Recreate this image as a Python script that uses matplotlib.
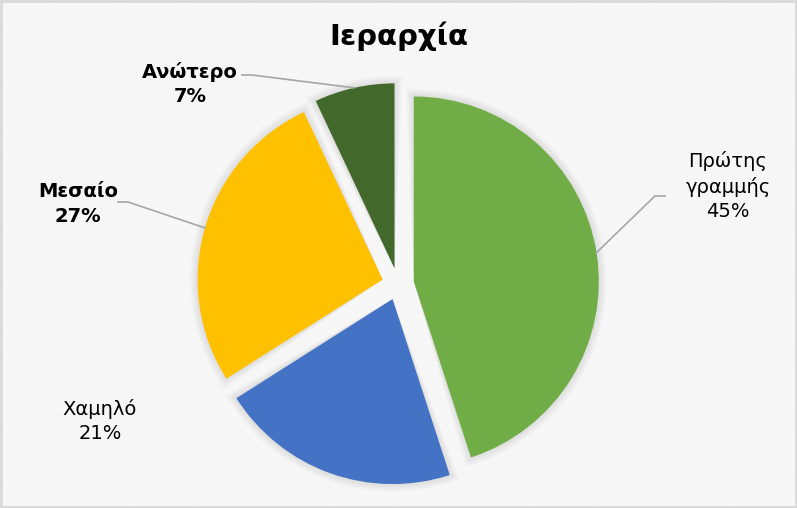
import numpy as np
import matplotlib.pyplot as plt
from matplotlib.patches import Rectangle, Wedge

# Δεδομένα
labels = ['Πρώτης\nγραμμής', 'Χαμηλό', 'Μεσαίο', 'Ανώτερο']
values = [45, 21, 27, 7]
colors = ['#70AD47', '#4472C4', '#FFC000', '#43682B']
title = 'Ιεραρχία'

W, H = 797, 508
fig = plt.figure(figsize=(W / 100, H / 100), dpi=100)
ax = fig.add_axes([0, 0, 1, 1])

# fondo con rayas diagonales suaves
plt.rcParams['hatch.linewidth'] = 0.7
bg = Rectangle((0, 0), W, H, facecolor='white', edgecolor='#efefef',
               hatch='\\' * 12, linewidth=0, zorder=0)
ax.add_patch(bg)
ax.add_patch(Rectangle((1, 1), W - 2, H - 2, facecolor='none',
                       edgecolor='#d9d9d9', linewidth=2, zorder=10))

cx, cy, r = 398, H - 284, 185
wedges, _ = ax.pie(values, colors=colors, startangle=90, counterclock=False,
                   center=(cx, cy), radius=r, explode=[16] * 4, frame=True,
                   wedgeprops=dict(linewidth=0, zorder=3))

# sombra difusa alrededor de cada porción
for w in wedges:
    for k in range(1, 7):
        ax.add_patch(Wedge(w.center, w.r + k * 1.3, w.theta1 - k * 0.4,
                           w.theta2 + k * 0.4, facecolor='#808080',
                           alpha=0.03, linewidth=0, zorder=2))

ax.set_xlim(0, W)
ax.set_ylim(0, H)
ax.axis('off')

ax.text(W / 2, H - 45, title, ha='center', va='baseline',
        fontsize=21, fontweight='bold', color='#000000')

pct = [f'{v}%' for v in values]
# posición de cada etiqueta (centro del texto) y codo de la línea guía
lab_pos = [(728, H - 186), (100, H - 421), (78, H - 204), (190, H - 84)]
weights = ['normal', 'normal', 'bold', 'bold']
elbows = [((665, H - 196), (655, H - 196)), None,
          ((118, H - 202), (128, H - 202)), ((242, H - 75), (252, H - 75))]

for w, lab, p, (tx, ty), fw, el in zip(wedges, labels, pct, lab_pos, weights, elbows):
    ax.text(tx, ty, f'{lab}\n{p}', ha='center', va='center', fontsize=14,
            fontweight=fw, linespacing=1.35, zorder=5)
    if el is not None:
        th = np.deg2rad((w.theta1 + w.theta2) / 2)
        px = w.center[0] + w.r * np.cos(th)
        py = w.center[1] + w.r * np.sin(th)
        ax.plot([el[0][0], el[1][0], px], [el[0][1], el[1][1], py],
                color='#a6a6a6', linewidth=1.2, zorder=4)

fig.savefig('out.png', dpi=100)
